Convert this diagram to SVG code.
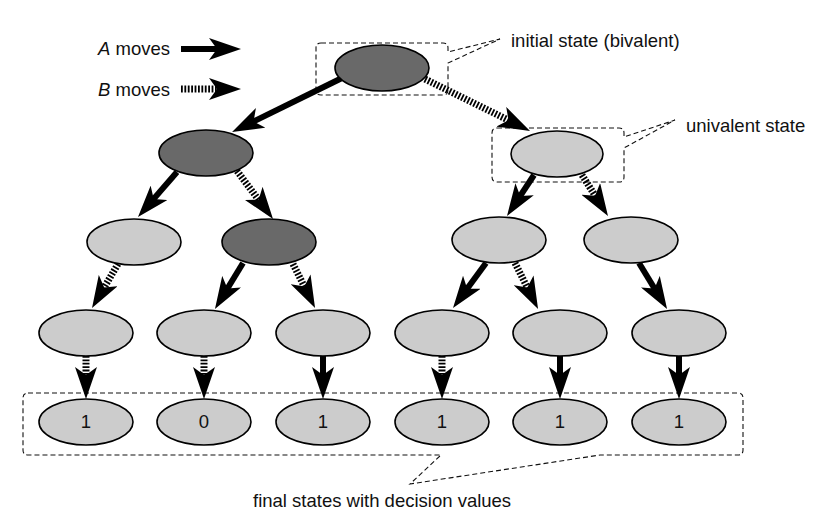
<svg xmlns="http://www.w3.org/2000/svg" width="816" height="521" viewBox="0 0 816 521">
<style>
  text { font-family: "Liberation Sans", Arial, sans-serif; font-size: 18.5px; fill: #111; }
  .light { fill: #cccccc; stroke: #000; stroke-width: 1.6; }
  .dark { fill: #696969; stroke: #000; stroke-width: 1.6; }
  .a { stroke: #000; stroke-width: 6; fill: none; marker-end: url(#head); }
  .b { stroke: #000; stroke-width: 7; stroke-dasharray: 1.8 1.6; fill: none; marker-end: url(#head); }
  .callout { fill: none; stroke: #111; stroke-width: 1.1; stroke-dasharray: 5 3; }
  .num { text-anchor: middle; }
</style>
<defs>
  <marker id="head" markerUnits="userSpaceOnUse" viewBox="0 0 32 22" markerWidth="32" markerHeight="22" refX="10" refY="11" orient="auto">
    <path d="M32 11 L0 0 L8 11 L0 22 Z" fill="#000" stroke="none"/>
  </marker>
</defs>
<rect width="816" height="521" fill="#fff"/>

<g id="legend">
  <text x="98" y="55"><tspan font-style="italic">A</tspan> moves</text>
  <text x="98" y="96"><tspan font-style="italic">B</tspan> moves</text>
  <line class="a" x1="181" y1="49" x2="219" y2="49"/>
  <line class="b" x1="181" y1="89" x2="219" y2="89"/>
</g>

<g id="callouts">
  <path class="callout" d="M321 43 H443 Q448 43 448 48 V52 L500 39 L448 63 V90 Q448 95 443 95 H321 Q316 95 316 90 V48 Q316 43 321 43 Z"/>
  <text x="511" y="47">initial state (bivalent)</text>
  <path class="callout" d="M497 128 H619 Q624 128 624 133 V137 L675 120 L624 148 V177 Q624 182 619 182 H497 Q492 182 492 177 V133 Q492 128 497 128 Z"/>
  <text x="686" y="132">univalent state</text>
  <path class="callout" d="M28 393 H738 Q743 393 743 398 V450 Q743 455 738 455 H600 L410 484 L441 455 H28 Q23 455 23 450 V398 Q23 393 28 393 Z"/>
  <text x="253" y="507">final states with decision values</text>
</g>

<g id="connectors">
  <line class="a" x1="342" y1="78" x2="251.8" y2="122.3"/>
  <line class="b" x1="425" y1="79" x2="510.3" y2="121.2"/>
  <line class="a" x1="177" y1="172" x2="152.4" y2="200.4"/>
  <line class="b" x1="237" y1="171" x2="259.8" y2="201.4"/>
  <line class="b" x1="118" y1="264" x2="103.2" y2="289.1"/>
  <line class="a" x1="243" y1="263" x2="226.4" y2="290.2"/>
  <line class="b" x1="293" y1="264" x2="305.2" y2="288.3"/>
  <line class="a" x1="534" y1="175" x2="519.1" y2="197.6"/>
  <line class="b" x1="582" y1="175" x2="596.2" y2="197.4"/>
  <line class="a" x1="486" y1="263" x2="466" y2="290.3"/>
  <line class="b" x1="515" y1="263" x2="528.2" y2="289.3"/>
  <line class="a" x1="639" y1="263" x2="655.6" y2="290.2"/>
  <line class="b" x1="86" y1="356" x2="86" y2="377"/>
  <line class="b" x1="204" y1="356" x2="204" y2="377"/>
  <line class="a" x1="323" y1="356" x2="323" y2="377"/>
  <line class="b" x1="442" y1="356" x2="442" y2="377"/>
  <line class="a" x1="560" y1="356" x2="560" y2="377"/>
  <line class="a" x1="679" y1="356" x2="679" y2="377"/>
</g>

<g id="root"><ellipse class="dark" cx="382" cy="68" rx="47" ry="23"/></g>
<g id="n1a"><ellipse class="dark" cx="206" cy="153" rx="47" ry="23"/></g>
<g id="n1b"><ellipse class="light" cx="557" cy="154" rx="46" ry="23"/></g>
<g id="n2a"><ellipse class="light" cx="134" cy="242" rx="47" ry="23"/></g>
<g id="n2b"><ellipse class="dark" cx="269" cy="242" rx="47" ry="23"/></g>
<g id="n2c"><ellipse class="light" cx="499" cy="240" rx="47" ry="23"/></g>
<g id="n2d"><ellipse class="light" cx="631" cy="240" rx="47" ry="23"/></g>
<g id="n3a"><ellipse class="light" cx="86" cy="333" rx="47" ry="23"/></g>
<g id="n3b"><ellipse class="light" cx="204" cy="333" rx="47" ry="23"/></g>
<g id="n3c"><ellipse class="light" cx="323" cy="333" rx="47" ry="23"/></g>
<g id="n3d"><ellipse class="light" cx="442" cy="333" rx="47" ry="23"/></g>
<g id="n3e"><ellipse class="light" cx="560" cy="333" rx="47" ry="23"/></g>
<g id="n3f"><ellipse class="light" cx="679" cy="333" rx="47" ry="23"/></g>
<g id="f1"><ellipse class="light" cx="86" cy="422" rx="47" ry="23"/><text class="num" x="86" y="428">1</text></g>
<g id="f2"><ellipse class="light" cx="204" cy="422" rx="47" ry="23"/><text class="num" x="204" y="428">0</text></g>
<g id="f3"><ellipse class="light" cx="323" cy="422" rx="47" ry="23"/><text class="num" x="323" y="428">1</text></g>
<g id="f4"><ellipse class="light" cx="442" cy="422" rx="47" ry="23"/><text class="num" x="442" y="428">1</text></g>
<g id="f5"><ellipse class="light" cx="560" cy="422" rx="47" ry="23"/><text class="num" x="560" y="428">1</text></g>
<g id="f6"><ellipse class="light" cx="679" cy="422" rx="47" ry="23"/><text class="num" x="679" y="428">1</text></g>
</svg>
